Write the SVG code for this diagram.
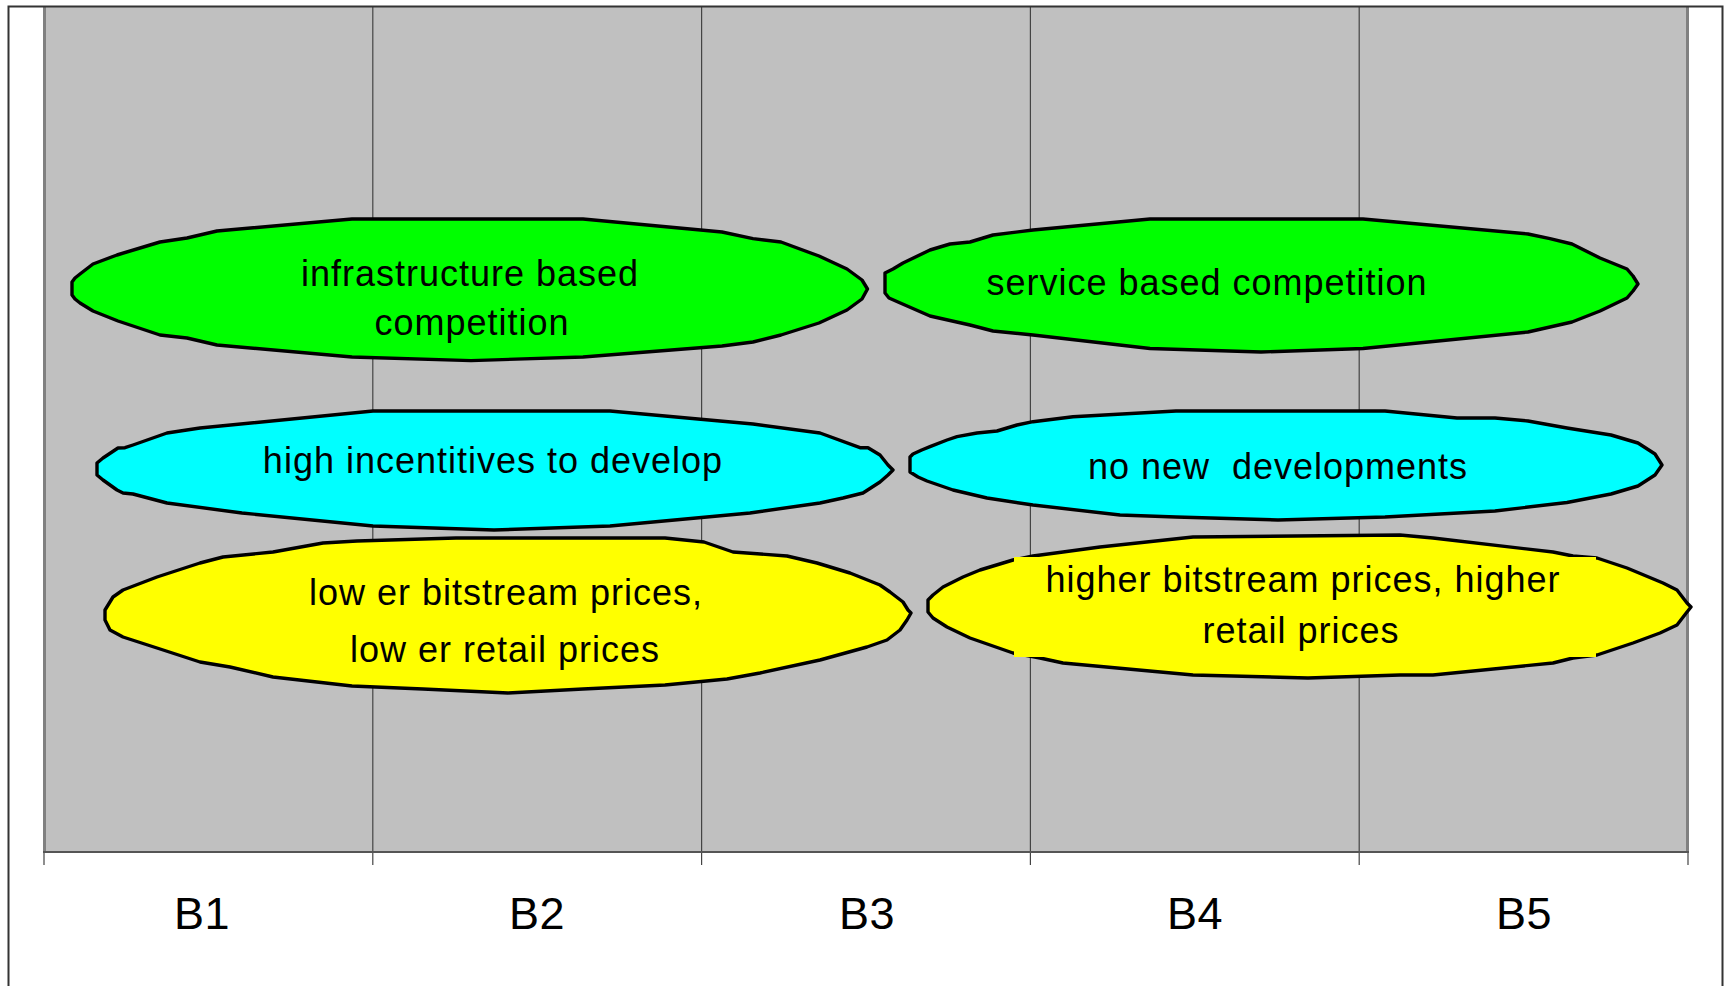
<svg xmlns="http://www.w3.org/2000/svg" width="1724" height="986" viewBox="0 0 1724 986">
<style>
.t{font-family:"Liberation Sans",Arial,sans-serif;font-size:36px;letter-spacing:1px;fill:#000;text-anchor:middle;white-space:pre}
.ax{font-family:"Liberation Sans",Arial,sans-serif;font-size:45px;letter-spacing:0.5px;fill:#000;text-anchor:middle}
.sh{stroke:#000;stroke-width:3.4;stroke-linejoin:round}
.g{fill:#00FF00}.c{fill:#00FFFF}.y{fill:#FFFF00}
.grid{stroke:#444;stroke-width:1.2}
</style>
<rect x="0" y="0" width="1724" height="986" fill="#fff"/>
<!-- plot area -->
<rect x="44" y="7" width="1644" height="845" fill="#C0C0C0"/>
<g class="grid">
<line x1="372.8" y1="7" x2="372.8" y2="865"/>
<line x1="701.6" y1="7" x2="701.6" y2="865"/>
<line x1="1030.4" y1="7" x2="1030.4" y2="865"/>
<line x1="1359.2" y1="7" x2="1359.2" y2="865"/>
<line x1="44" y1="852" x2="44" y2="865"/>
<line x1="1688" y1="852" x2="1688" y2="865"/>
</g>
<line x1="44.5" y1="7" x2="44.5" y2="852" stroke="#808080" stroke-width="3"/>
<line x1="1687.5" y1="7" x2="1687.5" y2="852" stroke="#808080" stroke-width="3"/>
<line x1="43" y1="852" x2="1689" y2="852" stroke="#555" stroke-width="2"/>
<!-- outer frame -->
<path d="M8.5,986 V6.5 H1722.5 V986" fill="none" stroke="#333" stroke-width="2"/>
<g id="connectors"></g>
<g id="node-infra">
<polygon class="sh g" points="72,282 75,278 80,274 93,264 117,255 160,242 187,238 217,231 352,219 583,219 722,232 753,238.6 781,242 819,256 847,269 862,280 867.5,289 862,299 847,310 819,323 781,335 753,342 722,346 583,357 471,360.6 352,357 217,345 187,338 160,335 118,321 93,311 80,303 75,299 72,295"/>
<text class="t" x="470" y="286">infrastructure based</text>
<text class="t" x="472" y="335">competition</text>
</g>
<g id="node-service">
<polygon class="sh g" points="885,273 889,271 893,269 903,263 930,250 950,244 970,242 993,235 1033,230 1150,219 1363,219 1528,234 1550,238.6 1572,244 1600,258 1627,269 1633,276 1638,284 1633,291 1627,298 1600,311 1572,322 1550,327 1528,332 1363,348.5 1261,352 1150,348.5 1033,335 993,331 970,325 930,316 898,302 889,298 885,293"/>
<text class="t" x="1207" y="295">service based competition</text>
</g>
<g id="node-high">
<polygon class="sh c" points="97,463 103,458 118,448 125,447.7 133,445 167,433 200,428 373,411 610,411 698,419 753,424 820,433 860,447.7 868,447.7 880,455 888,465 893,470 888,475 880,482 863,493 843,498 820,503 750,513 610,526 494,530 373,526 242,513 167,503 133,494 123,493 117,490 103,480 97,475"/>
<text class="t" x="493" y="473">high incentitives to develop</text>
</g>
<g id="node-nonew">
<polygon class="sh c" points="910,457 913,454 921.7,450 930,446.7 947,440 957,436.7 977,433 997,431 1017,425 1033,421.7 1073,416.7 1176,411 1385,411 1457,418 1495,418 1528,421 1567,428 1611,435 1638,443 1655,454 1662,465 1655,475 1638,486 1611,494 1567,502.5 1495,511 1385,517 1278,520 1176,517 1120,515 1033,505 987,498 953,490 927,481 918,477 910,472"/>
<text class="t" x="1278" y="479">no new  developments</text>
</g>
<g id="node-lower">
<polygon class="sh y" points="105,610 113,597 123,590 157,577 200,563 223,557 273,552 323,543 357,541 456,538 665,538 704,542 733,552 787,556 817,563 850,573 880,585 890,592 903,602 908,610 911,613 907,620 900,630 887,640 867,647 820,660 760,673 727,679 665,685 583,689 508,693 423,689 352,686 273,677 230,667 200,662 157,648 123,637 110,630 105,620"/>
<text class="t" x="506" y="605">low er bitstream prices,</text>
<text class="t" x="505" y="662">low er retail prices</text>
</g>
<g id="node-higher">
<polygon class="sh y" points="928,600 933,595 943,587 963,577 980,570 1013,560 1033,556 1063,552 1100,547 1193,537 1400,535 1433,538 1553,552 1573,556 1597,558 1627,568 1663,583 1677,590 1687,603 1691,607 1687,612 1677,625 1660,633 1633,643 1597,655 1573,658 1553,663 1433,675 1400,675 1308,678 1193,675 1063,663 1040,658 1013,653 970,638 947,627 933,618 928,612"/>
<rect x="1014" y="557" width="582" height="100" class="y"/>
<text class="t" x="1303" y="591.5">higher bitstream prices, higher</text>
<text class="t" x="1301" y="642.5">retail prices</text>
</g>
<g id="axis-labels">
<text class="ax" x="202" y="929">B1</text>
<text class="ax" x="537" y="929">B2</text>
<text class="ax" x="867" y="929">B3</text>
<text class="ax" x="1195" y="929">B4</text>
<text class="ax" x="1524" y="929">B5</text>
</g>
</svg>
